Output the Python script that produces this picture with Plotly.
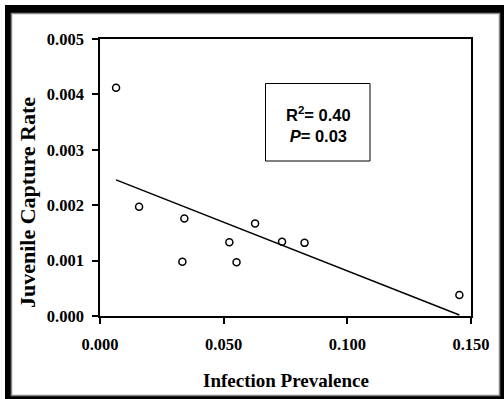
import numpy as np
import plotly.graph_objects as go

# Data
infection_prevalence = [0.0065, 0.0158, 0.0341, 0.0333, 0.0523, 0.0552, 0.0627, 0.0736, 0.0827, 0.1453]
juvenile_capture_rate = [0.00412, 0.00197, 0.00176, 0.00098, 0.00133, 0.00097, 0.00167, 0.00134, 0.00132, 0.00038]
x_ticks = [0.0, 0.05, 0.10, 0.15]
y_ticks = [0.0, 0.001, 0.002, 0.003, 0.004, 0.005]
stats_text = "R<sup>2</sup>= 0.40<br><i>P</i>= 0.03"

W, H = 504, 399
L, R, T, B = 100, 33, 39, 83
pw, ph = W - L - R, H - T - B


def px(x):
    return (x - L) / pw


def py(y):
    return (H - B - y) / ph


slope, intercept = np.polyfit(infection_prevalence, juvenile_capture_rate, 1)
fx = np.array([min(infection_prevalence), max(infection_prevalence)])
fy = slope * fx + intercept

fig = go.Figure()
fig.add_trace(go.Scatter(x=fx, y=fy, mode="lines",
                         line=dict(color="black", width=1.5), showlegend=False))
fig.add_trace(go.Scatter(x=infection_prevalence, y=juvenile_capture_rate, mode="markers",
                         marker=dict(symbol="circle-open", size=7, color="black",
                                     line=dict(width=1.5, color="black")),
                         showlegend=False))

tickfont = dict(family="Liberation Serif", size=16.5, color="black", weight="bold")
fig.update_xaxes(range=[0, 0.15], tickvals=x_ticks, tickformat=".3f",
                 showline=True, linecolor="black", linewidth=1.5, mirror=True,
                 ticks="outside", ticklen=6, tickwidth=1.5, tickcolor="black",
                 ticklabelstandoff=6,
                 showgrid=False, zeroline=False, tickfont=tickfont)
fig.update_yaxes(range=[0, 0.005], tickvals=y_ticks, tickformat=".3f",
                 showline=True, linecolor="black", linewidth=1.5, mirror=True,
                 ticks="outside", ticklen=6, tickwidth=1.5, tickcolor="black",
                 ticklabelstandoff=5,
                 showgrid=False, zeroline=False, tickfont=tickfont)

shapes = [
    dict(type="rect", xref="paper", yref="paper", x0=px(5), x1=px(504), y0=py(5), y1=py(399),
         fillcolor="black", line=dict(width=0), layer="below"),
    dict(type="rect", xref="paper", yref="paper", x0=px(11.5), x1=px(499.5), y0=py(13.5), y1=py(395.5),
         fillcolor="white", line=dict(width=1.5, color="#888888"), layer="below"),
    dict(type="rect", xref="paper", yref="paper", x0=px(265.5), x1=px(370), y0=py(83.5), y1=py(161),
         fillcolor="white", line=dict(width=1, color="black"), layer="above"),
]

annotations = [
    dict(xref="paper", yref="paper", x=px(318), y=py(125), text=stats_text, showarrow=False,
         font=dict(family="Liberation Sans", size=16.5, color="black", weight="bold"),
         align="center", xanchor="center", yanchor="middle"),
    dict(xref="paper", yref="paper", x=px(286), y=py(380), text="Infection Prevalence", showarrow=False,
         font=dict(family="Liberation Serif", size=19, color="black", weight="bold"),
         xanchor="center", yanchor="middle"),
    dict(xref="paper", yref="paper", x=px(27), y=py(203), text="Juvenile Capture Rate", showarrow=False,
         textangle=-90,
         font=dict(family="Liberation Serif", size=22, color="black", weight="bold"),
         xanchor="center", yanchor="middle"),
]

fig.update_layout(width=W, height=H, margin=dict(l=L, r=R, t=T, b=B, pad=0),
                  paper_bgcolor="white", plot_bgcolor="rgba(0,0,0,0)",
                  shapes=shapes, annotations=annotations)

fig.write_html("out.html", config={"displayModeBar": False},
               post_script="document.body.style.margin='0';document.body.style.overflow='hidden';")
